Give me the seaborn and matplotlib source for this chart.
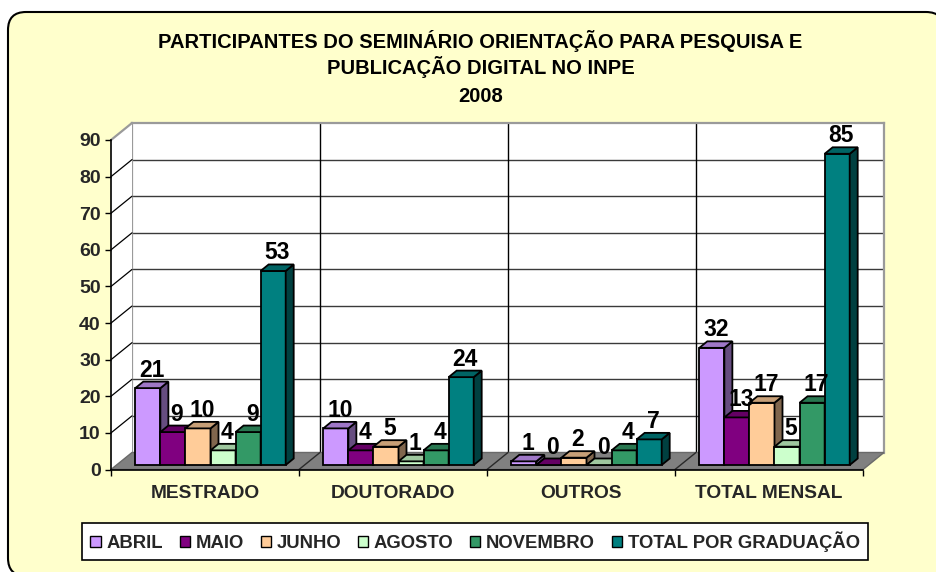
import numpy as np
import pandas as pd
import matplotlib
matplotlib.use("Agg")
import matplotlib.pyplot as plt
import seaborn as sns
from matplotlib.patches import Polygon, FancyBboxPatch
from matplotlib.lines import Line2D
from matplotlib.transforms import IdentityTransform

# ---- data -------------------------------------------------------------
categories = ["MESTRADO", "DOUTORADO", "OUTROS", "TOTAL MENSAL"]
series = ["ABRIL", "MAIO", "JUNHO", "AGOSTO", "NOVEMBRO", "TOTAL POR GRADUAÇÃO"]
abril = [21, 10, 1, 32]
maio = [9, 4, 0, 13]
junho = [10, 5, 2, 17]
agosto = [4, 1, 0, 5]
novembro = [9, 4, 4, 17]
total_graduacao = [53, 24, 7, 85]
colors = ["#CC99FF", "#800080", "#FFCC99", "#CCFFCC", "#339966", "#008080"]
yticks = list(range(0, 100, 10))
title = ("PARTICIPANTES DO SEMINÁRIO ORIENTAÇÃO PARA PESQUISA E\n"
         "PUBLICAÇÃO DIGITAL NO INPE\n2008")

df = pd.DataFrame({
    "categoria": categories * len(series),
    "serie": np.repeat(series, len(categories)),
    "valor": abril + maio + junho + agosto + novembro + total_graduacao,
})

# ---- style ------------------------------------------------------------
sns.set_theme(style="white")
plt.rcParams["font.family"] = ["Liberation Sans", "DejaVu Sans"]
plt.rcParams["font.weight"] = "bold"
plt.rcParams["axes.labelweight"] = "bold"

W, H, DPI = 936, 572, 100
fig = plt.figure(figsize=(W / DPI, H / DPI), dpi=DPI)
fig.patch.set_facecolor("white")

# rounded chart area (pixel units)
frame = FancyBboxPatch((8, H - 576), 936, 564,
                       boxstyle="round,pad=0,rounding_size=18",
                       transform=IdentityTransform(), facecolor="#FFFFCC",
                       edgecolor="black", linewidth=1.5, zorder=-5)
fig.add_artist(frame)


def rect(x0, x1, ytop, ybot, dx=0.0, dy=0.0):
    x0, x1, ytop, ybot = x0 + dx, x1 + dx, ytop - dy, ybot - dy
    return [x0 / W, 1 - ybot / H, (x1 - x0) / W, (ybot - ytop) / H]


FX0, FX1, FYT, FYB = 111, 863, 140, 469.5      # front plane
BACK = (21, 17)                                  # back wall shift (px)
BARP = (5.5, 4.5)                                # bar plane shift (px)
DEPTH = (8, 6.5)                                 # bar depth (px)
XLIM = (-0.5, len(categories) - 0.5)
YLIM = (0, 90)

ax_back = fig.add_axes(rect(FX0, FX1, FYT, FYB, *BACK), zorder=0)
ax_bar = fig.add_axes(rect(FX0, FX1, FYT, FYB, *BARP), zorder=1)
ax_front = fig.add_axes(rect(FX0, FX1, FYT, FYB), zorder=2)
for a in (ax_back, ax_bar, ax_front):
    a.set_xlim(*XLIM)
    a.set_ylim(*YLIM)

# ---- back wall ----------------------------------------------------------
ax_back.set_facecolor("white")
ax_back.set_xticks([])
ax_back.set_yticks([])
for side in ("left", "top", "right"):
    ax_back.spines[side].set_color("#9A9A9A")
    ax_back.spines[side].set_linewidth(1.6)
ax_back.spines["bottom"].set_visible(False)
for y in yticks[1:-1]:
    ax_back.axhline(y, color="#3A3A3A", linewidth=1.0, zorder=1)
for b in np.arange(0.5, len(categories) - 0.5, 1.0):
    ax_back.axvline(b, color="black", linewidth=1.0, zorder=1)

# ---- side wall and floor (figure fraction coords) -------------------------
to_fig = fig.transFigure.inverted()


def front_pt(x, y):
    return to_fig.transform(ax_front.transData.transform((x, y)))


def back_pt(x, y):
    return to_fig.transform(ax_back.transData.transform((x, y)))


side_wall = Polygon([front_pt(XLIM[0], 0), front_pt(XLIM[0], YLIM[1]),
                     back_pt(XLIM[0], YLIM[1]), back_pt(XLIM[0], 0)],
                    closed=True, transform=fig.transFigure,
                    facecolor="white", edgecolor="none", zorder=0.5)
fig.add_artist(side_wall)
for y in yticks[1:-1]:
    p, q = front_pt(XLIM[0], y), back_pt(XLIM[0], y)
    fig.add_artist(Line2D([p[0], q[0]], [p[1], q[1]], transform=fig.transFigure,
                          color="black", linewidth=0.9, zorder=0.6))
p, q = front_pt(XLIM[0], YLIM[1]), back_pt(XLIM[0], YLIM[1])
fig.add_artist(Line2D([p[0], q[0]], [p[1], q[1]], transform=fig.transFigure,
                      color="#9A9A9A", linewidth=1.6, zorder=0.6))

floor = Polygon([front_pt(XLIM[0], 0), front_pt(XLIM[1], 0),
                 back_pt(XLIM[1], 0), back_pt(XLIM[0], 0)],
                closed=True, transform=fig.transFigure,
                facecolor="#808080", edgecolor="#6A6A6A", linewidth=1.0,
                zorder=0.7)
fig.add_artist(floor)
for b in np.arange(0.5, len(categories) - 0.5, 1.0):
    p, q = front_pt(b, 0), back_pt(b, 0)
    fig.add_artist(Line2D([p[0], q[0]], [p[1], q[1]], transform=fig.transFigure,
                          color="#2A2A2A", linewidth=1.0, zorder=0.8))

# ---- bars -----------------------------------------------------------------
sns.barplot(data=df, x="categoria", y="valor", hue="serie", order=categories,
            hue_order=series, palette=colors, saturation=1, width=0.8,
            edgecolor="black", linewidth=1.3, errorbar=None, ax=ax_bar)
ax_bar.set_xlim(*XLIM)
ax_bar.set_ylim(*YLIM)
ax_bar.set_axis_off()
ax_bar.patch.set_visible(False)

bb = ax_bar.get_window_extent()
px_x = (XLIM[1] - XLIM[0]) / bb.width
px_y = (YLIM[1] - YLIM[0]) / bb.height
ddx, ddy = DEPTH[0] * px_x, DEPTH[1] * px_y

bars = sorted([b for c in ax_bar.containers for b in c], key=lambda r: r.get_x())
for i, bar in enumerate(bars):
    x0, w, h = bar.get_x(), bar.get_width(), bar.get_height()
    x1 = x0 + w
    rgb = np.array(bar.get_facecolor()[:3])
    z = 2 + i * 0.01
    bar.set_zorder(z)
    bar.set_clip_on(False)
    side = Polygon([(x1, 0), (x1 + ddx, ddy), (x1 + ddx, h + ddy), (x1, h)],
                   closed=True, facecolor=rgb * 0.5, edgecolor="black",
                   linewidth=1.3, zorder=z, clip_on=False)
    top = Polygon([(x0, h), (x0 + ddx, h + ddy), (x1 + ddx, h + ddy), (x1, h)],
                  closed=True, facecolor=rgb * 0.78, edgecolor="black",
                  linewidth=1.3, zorder=z, clip_on=False)
    ax_bar.add_patch(side)
    ax_bar.add_patch(top)
    ax_bar.annotate(f"{int(round(h))}", xy=(x0 + w / 2, h),
                    xytext=(4, 11.5), textcoords="offset pixels",
                    ha="center", va="baseline", fontsize=16.5,
                    fontweight="bold", color="black", zorder=10,
                    annotation_clip=False)
ax_bar.set_xlim(*XLIM)
ax_bar.set_ylim(*YLIM)

# legend
sns.move_legend(ax_bar, loc="center", bbox_to_anchor=(475 / W, 1 - 541.5 / H),
                bbox_transform=fig.transFigure, ncol=len(series), title="",
                frameon=True, fancybox=False, framealpha=1, edgecolor="black",
                fontsize=13.3, handlelength=0.55, handleheight=0.55,
                handletextpad=0.3, columnspacing=0.92, borderpad=0.45)
leg = ax_bar.get_legend()
leg.get_frame().set_linewidth(1.2)
for hdl in leg.legend_handles:
    hdl.set_edgecolor("black")
    hdl.set_linewidth(1.0)
for t in leg.get_texts():
    t.set_fontweight("bold")

# ---- front axes: ticks and labels -----------------------------------------
ax_front.patch.set_visible(False)
for side in ("top", "right"):
    ax_front.spines[side].set_visible(False)
for side in ("left", "bottom"):
    ax_front.spines[side].set_color("black")
    ax_front.spines[side].set_linewidth(1.2)
ax_front.set_yticks(yticks)
ax_front.set_yticklabels([str(v) for v in yticks], fontsize=14, fontweight="bold")
ax_front.tick_params(axis="y", direction="out", length=4.3, width=1.0,
                     color="black", pad=3, left=True)
ax_front.set_xticks(range(len(categories)))
ax_front.set_xticklabels(categories, fontsize=13.8, fontweight="bold")
ax_front.set_xticks(np.arange(XLIM[0], XLIM[1] + 0.01, 1.0), minor=True)
ax_front.tick_params(axis="x", which="major", length=0, pad=11)
ax_front.tick_params(axis="x", which="minor", direction="out", length=4.3,
                     width=1.0, color="black", bottom=True)
ax_front.set_xlabel("")
ax_front.set_ylabel("")

# ---- title ----------------------------------------------------------------
for line, base in zip(title.split("\n"), (47.5, 74.5, 102.5)):
    fig.text(480.5 / W, 1 - base / H, line, ha="center", va="baseline",
             fontsize=14.5, fontweight="bold", color="black")

fig.savefig("out.png", dpi=DPI, facecolor=fig.get_facecolor())
